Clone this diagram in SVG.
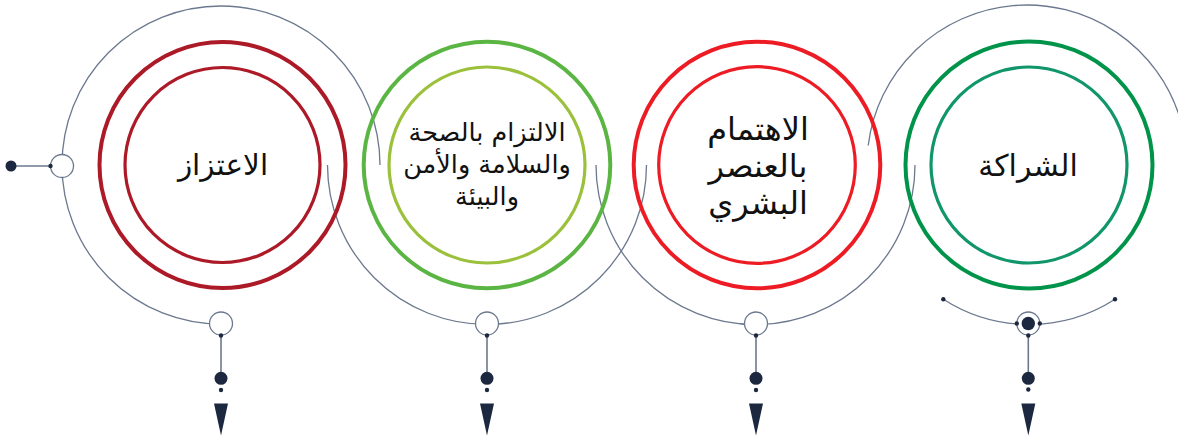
<svg xmlns="http://www.w3.org/2000/svg" width="1178" height="439" viewBox="0 0 1178 439">
<style>
.arc{fill:none;stroke:#6B788E;stroke-width:1.3}
.ring{fill:#fff;stroke:#6B788E;stroke-width:1.3}
.dot{fill:#1C2840}
.ln{stroke:#6B788E;stroke-width:1.6}
.o{fill:none;stroke-width:4}
.i{fill:none;stroke-width:3.2}
.t{font-family:"DejaVu Sans",sans-serif;fill:#111;text-anchor:middle;direction:rtl}
</style>
<rect width="1178" height="439" fill="#fff"/>
<g id="connectors">
<path class="arc" d="M 380 165 A 159 159 0 1 0 221 324"/>
<path class="arc" d="M 327.5 165 A 159.5 159.5 0 0 0 646.5 165"/>
<path class="arc" d="M 596 165 A 159.5 159.5 0 0 0 915 165"/>
<path class="arc" d="M 868.2 145.5 A 160 160 0 0 1 1180 118.2"/>
<path class="arc" d="M 943.3 299.3 A 159 159 0 0 0 1115 299.3"/>
<line class="ln" x1="11" y1="166" x2="50" y2="166"/>
<circle class="dot" cx="11" cy="166" r="5.5"/>
<circle class="ring" cx="62" cy="166" r="11.5"/>
<circle class="dot" cx="50.5" cy="166" r="2.2"/>
<circle class="dot" cx="943.3" cy="299.3" r="2.2"/>
<circle class="dot" cx="1115" cy="299.3" r="2.2"/>
</g>
<g id="node1">
<circle class="o" cx="222.5" cy="165" r="123" stroke="#AD1A27"/>
<circle class="i" cx="222.5" cy="165" r="97.5" stroke="#AD1A27"/>
<text class="t" x="223" y="175" font-size="29.5">الاعتزاز</text>
</g>
<g id="node2">
<circle class="o" cx="487" cy="165" r="123.3" stroke="#5BB543"/>
<circle class="i" cx="487" cy="165" r="98" stroke="#9BC13C"/>
<text class="t" x="487" y="141" font-size="25.5">الالتزام بالصحة</text>
<text class="t" x="487" y="173" font-size="25.5">والسلامة والأمن</text>
<text class="t" x="487" y="205" font-size="25.5">والبيئة</text>
</g>
<g id="node3">
<circle class="o" cx="757" cy="165" r="123.3" stroke="#ED1C24"/>
<circle class="i" cx="757" cy="165" r="98.3" stroke="#ED1C24"/>
<text class="t" x="758" y="140" font-size="32">الاهتمام</text>
<text class="t" x="758" y="177" font-size="32">بالعنصر</text>
<text class="t" x="758" y="214" font-size="32">البشري</text>
</g>
<g id="node4">
<circle class="o" cx="1029" cy="165" r="123.5" stroke="#00944A"/>
<circle class="i" cx="1029" cy="165" r="98" stroke="#11966B"/>
<text class="t" x="1028" y="176" font-size="30">الشراكة</text>
</g>
<g id="pin1">
<circle class="ring" cx="221" cy="323.5" r="11.5"/>
<line class="ln" x1="221" y1="335" x2="221" y2="374"/>
<circle class="dot" cx="221" cy="335.5" r="2.2"/>
<circle class="dot" cx="221" cy="378.3" r="6.5"/>
<circle class="dot" cx="221" cy="390" r="2.2"/>
<polygon class="dot" points="214,403.5 228,403.5 221,435.5"/>
</g>
<g id="pin2">
<circle class="ring" cx="487" cy="323.5" r="11.5"/>
<line class="ln" x1="487" y1="335" x2="487" y2="374"/>
<circle class="dot" cx="487" cy="335.5" r="2.2"/>
<circle class="dot" cx="487" cy="378.3" r="6.5"/>
<circle class="dot" cx="487" cy="390" r="2.2"/>
<polygon class="dot" points="480,403.5 494,403.5 487,435.5"/>
</g>
<g id="pin3">
<circle class="ring" cx="756" cy="323.5" r="11.5"/>
<line class="ln" x1="756" y1="335" x2="756" y2="374"/>
<circle class="dot" cx="756" cy="335.5" r="2.2"/>
<circle class="dot" cx="756" cy="378.3" r="6.5"/>
<circle class="dot" cx="756" cy="390" r="2.2"/>
<polygon class="dot" points="749,403.5 763,403.5 756,435.5"/>
</g>
<g id="pin4">
<circle class="ring" cx="1028.3" cy="323.5" r="11.5"/>
<circle class="dot" cx="1028.3" cy="323.5" r="6.7"/>
<circle class="dot" cx="1016.8" cy="323.5" r="2.2"/>
<circle class="dot" cx="1039.8" cy="323.5" r="2.2"/>
<line class="ln" x1="1028.3" y1="335" x2="1028.3" y2="374"/>
<circle class="dot" cx="1028.3" cy="335.5" r="2.2"/>
<circle class="dot" cx="1028.3" cy="378.3" r="6.5"/>
<circle class="dot" cx="1028.3" cy="389.5" r="2.2"/>
<polygon class="dot" points="1021.3,403.5 1035.3,403.5 1028.3,435.5"/>
</g>
</svg>
